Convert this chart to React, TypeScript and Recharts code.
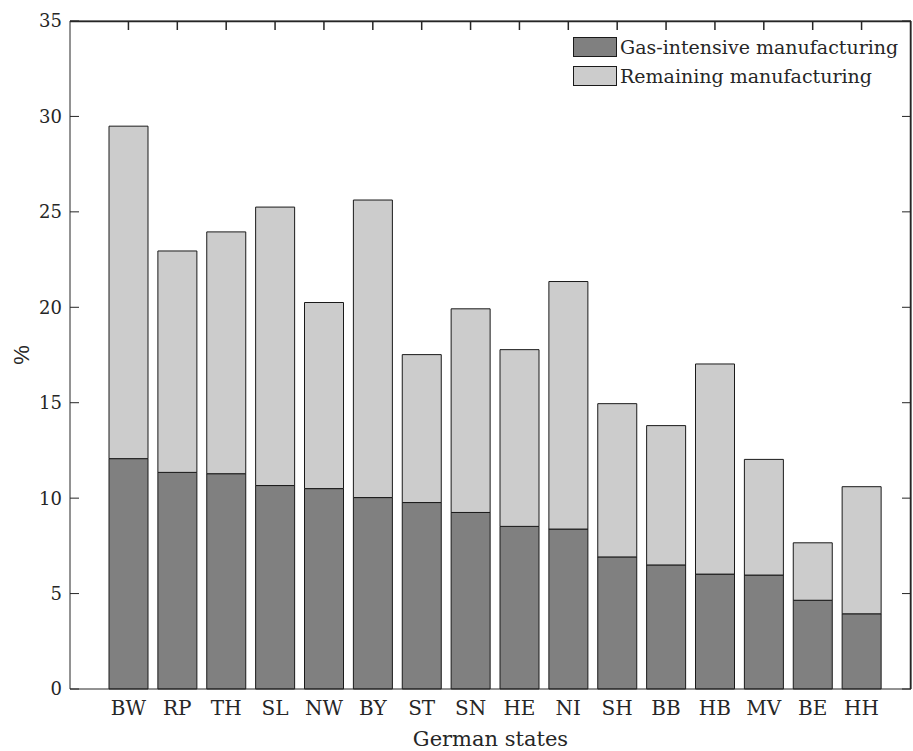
import { ComposedChart, Bar, Line, XAxis, YAxis, Legend, CartesianGrid } from "recharts";

const states = ["BW", "RP", "TH", "SL", "NW", "BY", "ST", "SN", "HE", "NI", "SH", "BB", "HB", "MV", "BE", "HH"];
const gasIntensive = [12.07, 11.35, 11.28, 10.66, 10.5, 10.03, 9.77, 9.25, 8.52, 8.38, 6.92, 6.5, 6.02, 5.97, 4.65, 3.94];
const remaining = [17.42, 11.6, 12.67, 14.59, 9.75, 15.59, 7.75, 10.67, 9.26, 12.97, 8.03, 7.3, 11.01, 6.06, 3.01, 6.66];
const yTicks = [0, 5, 10, 15, 20, 25, 30, 35];

const data = states.map((state, i) => ({
  state,
  gas: gasIntensive[i],
  rest: remaining[i],
}));

const serif = "DejaVu Serif";
const ink = "#262626";
const TICK = 9;

// left axis: label plus an inward tick mark
function LeftTick({ x, y, payload }: any) {
  return (
    <g>
      <path d={`M${x + 8},${y}h${TICK}`} stroke={ink} strokeWidth={1} />
      <text x={x} y={y} dy="0.36em" textAnchor="end" fill={ink} fontFamily={serif} fontSize={18}>
        {payload.value}
      </text>
    </g>
  );
}

// top / right axes only carry inward tick marks
function TopTick({ x, y }: any) {
  return <path d={`M${x},${y}v${TICK}`} stroke={ink} strokeWidth={1.5} />;
}

function RightTick({ x, y }: any) {
  return <path d={`M${x},${y}h${-TICK}`} stroke={ink} strokeWidth={1} />;
}

function LegendBox({ payload }: any) {
  return (
    <div style={{ fontFamily: serif, fontSize: 19, color: ink, whiteSpace: "nowrap" }}>
      {(payload || [])
        .filter((p: any) => p.type !== "none")
        .map((p: any) => (
          <div key={p.value} style={{ display: "flex", alignItems: "center", height: 29 }}>
            <span
              style={{
                display: "inline-block",
                flexShrink: 0,
                width: 42,
                height: 18,
                background: p.color,
                border: "1px solid #1a1a1a",
                marginRight: 3,
              }}
            />
            {p.value}
          </div>
        ))}
    </div>
  );
}

export default function App() {
  return (
    <div style={{ position: "absolute", left: 0, top: 0 }}>
      <ComposedChart
        width={913}
        height={751}
        data={data}
        margin={{ top: 11, right: 0, bottom: 0, left: 0 }}
        barSize={39}
      >
        {/* top and right edges of the axes box */}
        <CartesianGrid
          stroke={ink}
          strokeWidth={1.5}
          horizontalCoordinatesGenerator={({ offset }: any) => [offset.top + 0.5]}
          verticalCoordinatesGenerator={({ offset }: any) => [offset.left + offset.width - 0.5]}
        />
        <XAxis
          dataKey="state"
          height={62}
          padding={{ left: 34, right: 25 }}
          tickLine={false}
          tickSize={0}
          tickMargin={12}
          stroke={ink}
          tick={{ fill: ink, fontFamily: serif, fontSize: 20 }}
          interval={0}
          label={{
            value: "German states",
            position: "insideBottom",
            offset: 5,
            fill: ink,
            fontFamily: serif,
            fontSize: 21,
          }}
        />
        <XAxis
          xAxisId="top"
          dataKey="state"
          orientation="top"
          height={10}
          padding={{ left: 34, right: 25 }}
          tickLine={false}
          tickSize={0}
          tickMargin={0}
          tick={<TopTick />}
          stroke={ink}
          interval={0}
        />
        <YAxis
          width={70}
          domain={[0, 35]}
          ticks={yTicks}
          interval={0}
          tickLine={false}
          tickSize={0}
          tickMargin={8}
          stroke={ink}
          tick={<LeftTick />}
          label={{
            content: () => (
              <text
                x={21}
                y={355}
                transform="rotate(-90 21 355)"
                textAnchor="middle"
                dominantBaseline="central"
                fill={ink}
                fontFamily="Liberation Sans"
                fontSize={22}
              >
                %
              </text>
            ),
          }}
        />
        <YAxis
          yAxisId="right"
          orientation="right"
          width={2}
          domain={[0, 35]}
          ticks={yTicks}
          interval={0}
          tickLine={false}
          tickSize={0}
          tickMargin={0}
          tick={<RightTick />}
          stroke={ink}
        />
        <Legend
          content={<LegendBox />}
          wrapperStyle={{ position: "absolute", top: 32, left: 573, width: 0, height: 0, overflow: "visible" }}
        />
        <Bar dataKey="gas" name="Gas-intensive manufacturing" stackId="s" fill="#808080" stroke="#1a1a1a" strokeWidth={1} isAnimationActive={false} />
        <Bar dataKey="rest" name="Remaining manufacturing" stackId="s" fill="#cccccc" stroke="#1a1a1a" strokeWidth={1} isAnimationActive={false} />
        <Line
          xAxisId="top"
          yAxisId="right"
          dataKey="gas"
          stroke="none"
          dot={false}
          legendType="none"
          isAnimationActive={false}
        />
      </ComposedChart>
    </div>
  );
}
